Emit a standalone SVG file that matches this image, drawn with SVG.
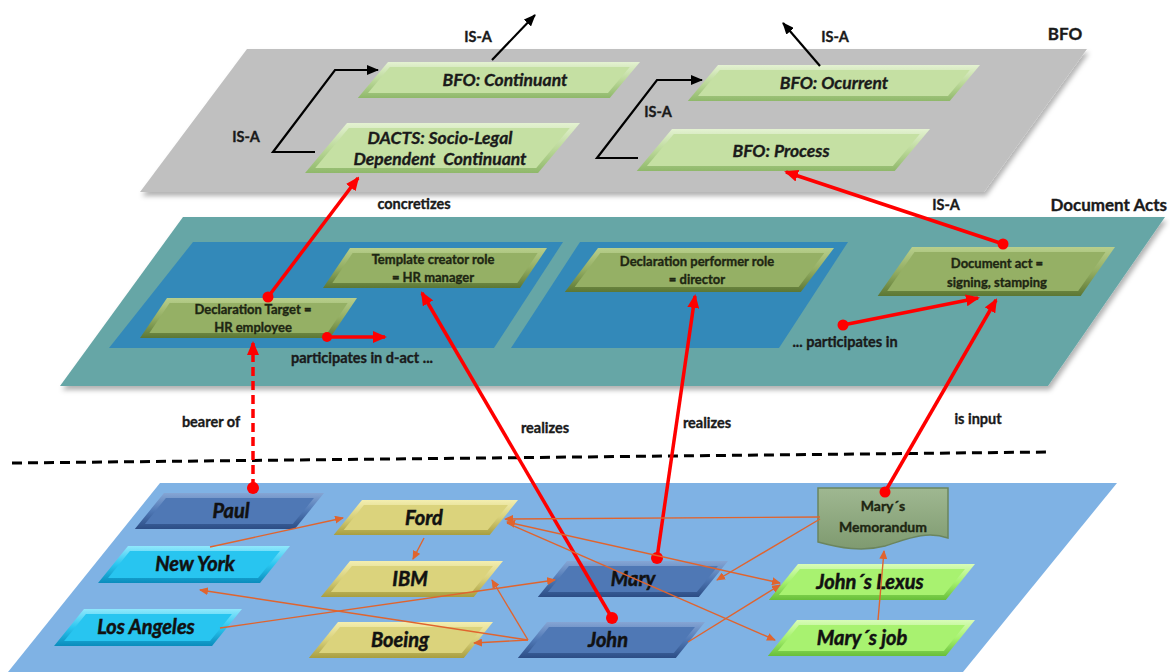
<svg xmlns="http://www.w3.org/2000/svg" width="1170" height="672" viewBox="0 0 1170 672">
<style>
text{font-family:Lato,"Liberation Sans","DejaVu Sans",sans-serif;font-weight:bold;fill:#1a1a1a;stroke:#1a1a1a;stroke-width:0.35;paint-order:stroke}
.tT{font-size:17.5px;font-style:italic;text-anchor:middle}
.tM{font-size:13px;text-anchor:middle;fill:#1e2612;stroke:#1e2612}
.tB{font-size:20px;font-style:italic;text-anchor:middle;fill:#111;stroke:#111;stroke-width:0.5}
.tD{font-size:14px;text-anchor:middle;fill:#1e2612;stroke:#1e2612}
.lab{font-size:14.5px;text-anchor:middle}
.lay{font-size:17px}
.fT{fill:#c5e0a3}.fM{fill:#95b065}.fP{fill:#4f78b5}.fC{fill:#28c5f0}.fY{fill:#dbd37c}.fL{fill:#a8f270}
.red{stroke:#ff0000;stroke-width:3.5;fill:none;marker-end:url(#mR)}
.dot{fill:#ff0000}
.blk{stroke:#000;stroke-width:2.2;fill:none;marker-end:url(#mK)}
.org{stroke:#e0642e;stroke-width:1.4;fill:none;marker-end:url(#mO)}
</style>
<defs>
<filter id="sh" x="-5%" y="-5%" width="110%" height="115%"><feDropShadow dx="2" dy="4" stdDeviation="2.5" flood-color="#000" flood-opacity="0.3"/></filter>
<linearGradient id="gT" x1="0" y1="0" x2="0" y2="1"><stop offset="0" stop-color="#e4f2d2"/><stop offset="0.5" stop-color="#bcd99a"/><stop offset="1" stop-color="#8fb86a"/></linearGradient>
<linearGradient id="gM" x1="0" y1="0" x2="0" y2="1"><stop offset="0" stop-color="#b8cf8c"/><stop offset="0.5" stop-color="#93ad62"/><stop offset="1" stop-color="#5c7734"/></linearGradient>
<linearGradient id="gP" x1="0" y1="0" x2="0" y2="1"><stop offset="0" stop-color="#85a5d4"/><stop offset="0.5" stop-color="#4f78b5"/><stop offset="1" stop-color="#2c4d85"/></linearGradient>
<linearGradient id="gC" x1="0" y1="0" x2="0" y2="1"><stop offset="0" stop-color="#90e8fc"/><stop offset="0.5" stop-color="#2ac6f0"/><stop offset="1" stop-color="#0a8cbc"/></linearGradient>
<linearGradient id="gY" x1="0" y1="0" x2="0" y2="1"><stop offset="0" stop-color="#f3eeb0"/><stop offset="0.5" stop-color="#d8d07a"/><stop offset="1" stop-color="#a89e40"/></linearGradient>
<linearGradient id="gL" x1="0" y1="0" x2="0" y2="1"><stop offset="0" stop-color="#d8fcb8"/><stop offset="0.5" stop-color="#a6f26e"/><stop offset="1" stop-color="#68bf3a"/></linearGradient>
<linearGradient id="gD" x1="0" y1="0" x2="0" y2="1"><stop offset="0" stop-color="#9fb891"/><stop offset="1" stop-color="#7f9a70"/></linearGradient>
<marker id="mR" markerUnits="userSpaceOnUse" markerWidth="14" markerHeight="12" refX="12" refY="6" orient="auto"><path d="M0,0 L14,6 L0,12 z" fill="#ff0000"/></marker>
<marker id="mK" markerUnits="userSpaceOnUse" markerWidth="12" markerHeight="10" refX="11" refY="5" orient="auto"><path d="M0,0 L12,5 L0,10 z" fill="#000"/></marker>
<marker id="mO" markerUnits="userSpaceOnUse" markerWidth="9" markerHeight="8" refX="8" refY="4" orient="auto-start-reverse"><path d="M0,0 L9,4 L0,8 z" fill="#e0642e"/></marker>
</defs>

<!-- layers -->
<g id="layers">
<polygon points="247,49 1087,49 984,192 140,192" fill="#c0c0c0" filter="url(#sh)"/>
<polygon points="183,217 1165,217 1048,386 60,386" fill="#66a6a6" filter="url(#sh)"/>
<polygon points="193,242 563,242 494,348 109,348" fill="#3389b9"/>
<polygon points="580,242 848,242 779,348 511,348" fill="#3389b9"/>
<polygon points="160,483 1117,483 963,672 8,672" fill="#7fb2e4"/>
<text class="lay" x="1065" y="40" text-anchor="middle">BFO</text>
<text class="lay" x="1167" y="211" text-anchor="end">Document Acts</text>
</g>

<!-- top layer nodes -->
<g id="n-continuant">
<g transform="translate(388,62) skewX(-40)"><rect width="252" height="36" fill="url(#gT)"/><rect x="6" y="5" width="240" height="26" class="fT"/></g>
<text class="tT" x="505" y="86">BFO: Continuant</text>
</g>
<g id="n-dacts">
<g transform="translate(347,123) skewX(-40)"><rect width="233" height="50" fill="url(#gT)"/><rect x="6" y="5" width="221" height="40" class="fT"/></g>
<text class="tT" x="440" y="144">DACTS: Socio-Legal</text>
<text class="tT" x="440" y="165" xml:space="preserve">Dependent  Continuant</text>
</g>
<g id="n-ocurrent">
<g transform="translate(718,65) skewX(-40)"><rect width="262" height="36" fill="url(#gT)"/><rect x="6" y="5" width="250" height="26" class="fT"/></g>
<text class="tT" x="834" y="89">BFO: Ocurrent</text>
</g>
<g id="n-process">
<g transform="translate(672,129) skewX(-40)"><rect width="258" height="42" fill="url(#gT)"/><rect x="6" y="5" width="246" height="32" class="fT"/></g>
<text class="tT" x="781" y="157">BFO: Process</text>
</g>

<!-- middle layer nodes -->
<g id="n-template">
<g transform="translate(350,248) skewX(-34)"><rect width="197" height="40" fill="url(#gM)"/><rect x="6" y="5" width="185" height="30" class="fM"/></g>
<text class="tM" x="433" y="264">Template creator role</text>
<text class="tM" x="433" y="282">= HR manager</text>
</g>
<g id="n-target">
<g transform="translate(167,298) skewX(-34)"><rect width="190" height="40" fill="url(#gM)"/><rect x="6" y="5" width="178" height="30" class="fM"/></g>
<text class="tM" x="253" y="314">Declaration Target =</text>
<text class="tM" x="253" y="332">HR employee</text>
</g>
<g id="n-performer">
<g transform="translate(598,248) skewX(-37)"><rect width="236" height="44" fill="url(#gM)"/><rect x="6" y="5" width="224" height="34" class="fM"/></g>
<text class="tM" x="697" y="266">Declaration performer role</text>
<text class="tM" x="697" y="284">= director</text>
</g>
<g id="n-docact">
<g transform="translate(912,247) skewX(-35)"><rect width="203" height="49" fill="url(#gM)"/><rect x="6" y="5" width="191" height="39" class="fM"/></g>
<text class="tM" x="997" y="268">Document act =</text>
<text class="tM" x="997" y="287">signing, stamping</text>
</g>

<!-- bottom layer nodes -->
<g id="n-paul">
<g transform="translate(164,493) skewX(-39)"><rect width="160" height="36" fill="url(#gP)"/><rect x="6" y="5" width="148" height="26" class="fP"/></g>
<text class="tB" x="231" y="518">Paul</text>
</g>
<g id="n-newyork">
<g transform="translate(128,546) skewX(-39)"><rect width="162" height="37" fill="url(#gC)"/><rect x="6" y="5" width="150" height="27" class="fC"/></g>
<text class="tB" x="195" y="571">New York</text>
</g>
<g id="n-losangeles">
<g transform="translate(84,609) skewX(-39)"><rect width="158" height="37" fill="url(#gC)"/><rect x="6" y="5" width="146" height="27" class="fC"/></g>
<text class="tB" x="146" y="634">Los Angeles</text>
</g>
<g id="n-ford">
<g transform="translate(362,500) skewX(-39)"><rect width="156" height="35" fill="url(#gY)"/><rect x="6" y="5" width="144" height="25" class="fY"/></g>
<text class="tB" x="424" y="525">Ford</text>
</g>
<g id="n-ibm">
<g transform="translate(350,561) skewX(-39)"><rect width="153" height="36" fill="url(#gY)"/><rect x="6" y="5" width="141" height="26" class="fY"/></g>
<text class="tB" x="410" y="586">IBM</text>
</g>
<g id="n-boeing">
<g transform="translate(338,622) skewX(-39)"><rect width="155" height="36" fill="url(#gY)"/><rect x="6" y="5" width="143" height="26" class="fY"/></g>
<text class="tB" x="400" y="647">Boeing</text>
</g>
<g id="n-mary">
<g transform="translate(567,561) skewX(-39)"><rect width="161" height="36" fill="url(#gP)"/><rect x="6" y="5" width="149" height="26" class="fP"/></g>
<text class="tB" x="633" y="586">Mary</text>
</g>
<g id="n-john">
<g transform="translate(547,622) skewX(-39)"><rect width="158" height="36" fill="url(#gP)"/><rect x="6" y="5" width="146" height="26" class="fP"/></g>
<text class="tB" x="608" y="647">John</text>
</g>
<g id="n-memo">
<path d="M818,488 H948 V538 C925,530 905,540 885,546 C862,552 840,548 818,542 Z" fill="url(#gD)" stroke="#6b855e" stroke-width="1.5"/>
<text class="tD" x="883" y="511">Mary´s</text>
<text class="tD" x="883" y="532">Memorandum</text>
</g>
<g id="n-lexus">
<g transform="translate(798,564) skewX(-39)"><rect width="177" height="36" fill="url(#gL)"/><rect x="6" y="5" width="165" height="26" class="fL"/></g>
<text class="tB" x="870" y="589">John´s Lexus</text>
</g>
<g id="n-maryjob">
<g transform="translate(797,620) skewX(-39)"><rect width="178" height="36" fill="url(#gL)"/><rect x="6" y="5" width="166" height="26" class="fL"/></g>
<text class="tB" x="862" y="645">Mary´s job</text>
</g>

<!-- connectors -->
<g id="connectors">
<polyline class="blk" points="315,152 273,152 335,70 378,70"/>
<polyline class="blk" points="638,158 597,158 657,80 702,80"/>
<line class="blk" x1="492" y1="60" x2="535" y2="15"/>
<line class="blk" x1="820" y1="66" x2="783" y2="23"/>
<line x1="12" y1="463" x2="1048" y2="452" stroke="#000" stroke-width="3" stroke-dasharray="10,6"/>

<line class="red" x1="268" y1="297" x2="358" y2="178"/><circle class="dot" cx="268" cy="297" r="5.5"/>
<line class="red" x1="327" y1="337" x2="385" y2="337"/><circle class="dot" cx="327" cy="337" r="5"/>
<line class="red" x1="1003" y1="244" x2="786" y2="172"/><circle class="dot" cx="1003" cy="244" r="5.5"/>
<line class="red" x1="843" y1="325" x2="978" y2="298"/><circle class="dot" cx="843" cy="325" r="5.5"/>
<line class="red" x1="885" y1="492" x2="996" y2="300"/><circle class="dot" cx="885" cy="492" r="5.5"/>
<line class="red" x1="612" y1="618" x2="422" y2="293"/><circle class="dot" cx="612" cy="618" r="6"/>
<line class="red" x1="657" y1="558" x2="695" y2="296"/><circle class="dot" cx="657" cy="558" r="6"/>
<line class="red" x1="253" y1="488" x2="253" y2="343" stroke-dasharray="9,5"/><circle class="dot" cx="253" cy="488" r="6"/>

<line class="org" x1="210" y1="547" x2="343" y2="518"/>
<line class="org" x1="424" y1="538" x2="413" y2="559"/>
<line class="org" x1="220" y1="628" x2="555" y2="580"/>
<line class="org" x1="528" y1="640" x2="200" y2="590"/>
<line class="org" x1="528" y1="640" x2="492" y2="580"/>
<line class="org" x1="528" y1="640" x2="474" y2="643"/>
<line class="org" x1="820" y1="517" x2="505" y2="519"/>
<line class="org" x1="820" y1="519" x2="717" y2="580"/>
<line class="org" x1="507" y1="522" x2="780" y2="583" marker-start="url(#mO)"/>
<line class="org" x1="507" y1="523" x2="775" y2="640"/>
<line class="org" x1="688" y1="642" x2="780" y2="585"/>
<line class="org" x1="878" y1="620" x2="884" y2="551"/>
</g>

<!-- connector labels -->
<g id="labels">
<text class="lab" x="478" y="42">IS-A</text>
<text class="lab" x="835" y="42">IS-A</text>
<text class="lab" x="246" y="142">IS-A</text>
<text class="lab" x="658" y="117">IS-A</text>
<text class="lab" x="414" y="209">concretizes</text>
<text class="lab" x="946" y="210">IS-A</text>
<text class="lab" x="362" y="363">participates in d-act ...</text>
<text class="lab" x="845" y="347">... participates in</text>
<text class="lab" x="211" y="427">bearer of</text>
<text class="lab" x="545" y="433">realizes</text>
<text class="lab" x="707" y="428">realizes</text>
<text class="lab" x="978" y="424">is input</text>
</g>
</svg>
